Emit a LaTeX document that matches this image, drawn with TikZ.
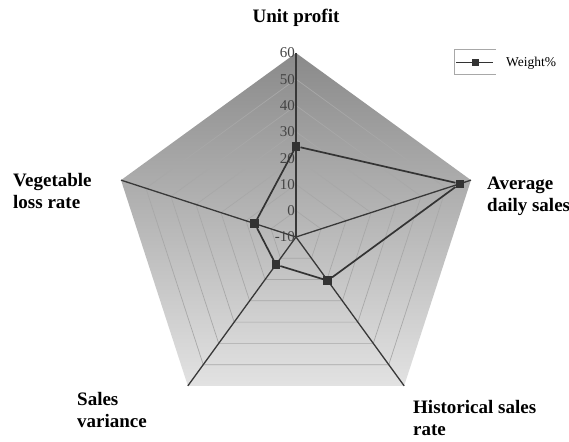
\documentclass[tikz,border=0pt]{standalone}
\usepackage{fontspec}
\setmainfont{Liberation Serif}
\definecolor{topgray}{HTML}{8A8A8A}
\definecolor{botgray}{HTML}{E2E2E2}
\definecolor{ringgray}{HTML}{A8A8A8}
\definecolor{spokegray}{HTML}{383838}
\definecolor{markgray}{HTML}{333333}
\definecolor{ticktext}{HTML}{444444}
\begin{document}
\begin{tikzpicture}[x=1pt,y=1pt,
spoke/.style ={draw=spokegray,line width=1.3pt},
ring/.style ={draw=ringgray,line width=0.7pt},
wline/.style ={draw=markgray,line width=1.7pt},
wpt/.style ={rectangle,fill=markgray,inner sep=0pt,minimum size=8.5pt},
axlab/.style ={font=\bfseries\fontsize{19}{22}\selectfont,align=left,anchor=west,inner sep=0pt},
ticklab/.style ={font=\fontsize{15}{15}\selectfont,text=ticktext,anchor=east,inner sep=1pt}]

\useasboundingbox (-296,-204) rectangle (273,237);

\coordinate (O) at (0,0);
\coordinate (A) at (90:184);
\coordinate (B) at (18:184);
\coordinate (C) at (-54:184);
\coordinate (D) at (-126:184);
\coordinate (E) at (162:184);

\shade[top color=topgray,bottom color=botgray] (A) -- (B) -- (C) -- (D) -- (E) -- cycle;

% rings 0 .. 50
\draw[ring] (90:26.3) -- (18:26.3) -- (-54:26.3) -- (-126:26.3) -- (162:26.3) -- cycle;
\draw[ring] (90:52.6) -- (18:52.6) -- (-54:52.6) -- (-126:52.6) -- (162:52.6) -- cycle;
\draw[ring] (90:78.9) -- (18:78.9) -- (-54:78.9) -- (-126:78.9) -- (162:78.9) -- cycle;
\draw[ring] (90:105.2) -- (18:105.2) -- (-54:105.2) -- (-126:105.2) -- (162:105.2) -- cycle;
\draw[ring] (90:131.5) -- (18:131.5) -- (-54:131.5) -- (-126:131.5) -- (162:131.5) -- cycle;
\draw[ring] (90:157.8) -- (18:157.8) -- (-54:157.8) -- (-126:157.8) -- (162:157.8) -- cycle;

\draw[spoke] (O) -- (A);
\draw[spoke] (O) -- (B);
\draw[spoke] (O) -- (C);
\draw[spoke] (O) -- (D);
\draw[spoke] (O) -- (E);

\node[ticklab] (t60) at (0,184) {60};
\node[ticklab] (t50) at (0,157.8) {50};
\node[ticklab] (t40) at (0,131.5) {40};
\node[ticklab] (t30) at (0,105.2) {30};
\node[ticklab] (t20) at (0,78.9) {20};
\node[ticklab] (t10) at (0,52.6) {10};
\node[ticklab] (t0) at (0,26.3) {0};
\node[ticklab] (tm10) at (0,0) {-10};

%
\node[wpt] (p1) at (90:90.7) {};
\node[wpt] (p2) at (18:172.3) {};
\node[wpt] (p3) at (-54:53.9) {};
\node[wpt] (p4) at (-126:34.2) {};
\node[wpt] (p5) at (162:43.4) {};
\draw[wline] (p1) -- (p2) -- (p3) -- (p4) -- (p5) -- (p1);

\node[axlab,anchor=center] (up) at (0,219) {Unit profit};
\node[axlab] (ads) at (191,41) {Average\\daily sales};
\node[axlab] (vlr) at (-283,46) {Vegetable\\loss rate};
\node[axlab] (sv) at (-219,-173) {Sales\\variance};
\node[axlab] (hsr) at (117,-181) {Historical sales\\rate};

% legend
\draw[ringgray,line width=0.6pt] (200,188) -- (158,188) -- (158,163) -- (200,163);
\coordinate (l1) at (160,174);
\coordinate (l2) at (197,174);
\draw[markgray,line width=1pt] (l1) -- (l2);
\node[wpt,minimum size=7pt] (lm) at (179,174) {};
\node[font=\fontsize{13.5}{13.5}\selectfont,anchor=west,inner sep=0pt] (lw) at (210,174) {Weight\%};

\end{tikzpicture}
\end{document}
